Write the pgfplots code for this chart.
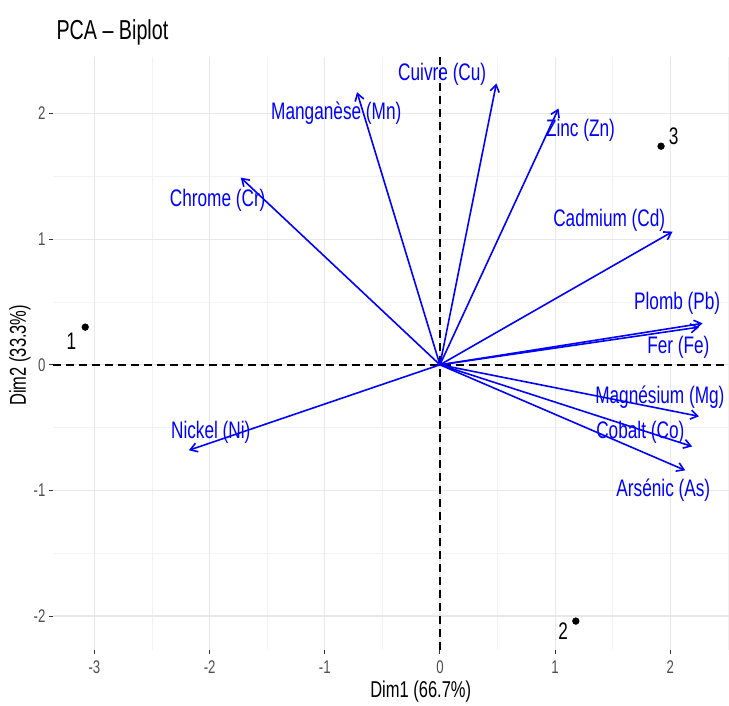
\documentclass[border=0pt]{standalone}
\usepackage{pgfplots}
\pgfplotsset{compat=1.18}
\usepackage{fontspec}
\setmainfont{Liberation Sans}[FakeStretch=0.72]
\usetikzlibrary{arrows.meta}
\definecolor{gridmaj}{HTML}{E8E8E8}
\definecolor{gridmin}{HTML}{F2F2F2}
\definecolor{ticklab}{HTML}{4D4D4D}
\definecolor{tickcol}{HTML}{333333}
\begin{document}
\begin{tikzpicture}
\useasboundingbox (-53bp,-56bp) rectangle (676bp,650bp);
\begin{axis}[
  at={(0,0)}, anchor=south west,
  scale only axis, width=676bp, height=593bp,
  xmin=-3.36, xmax=2.51, ymin=-2.27, ymax=2.45,
  axis line style={draw=none},
  xtick={-3,-2,-1,0,1,2}, ytick={-2,-1,0,1,2},
  minor xtick={-3,-2.5,-2,-1.5,-1,-0.5,0,0.5,1,1.5,2,2.5},
  minor ytick={-2,-1.5,-1,-0.5,0,0.5,1,1.5,2},
  xtick pos=bottom, ytick pos=left,
  tick align=outside, major tick length=4bp, minor tick length=0pt,
  tick style={tickcol, line width=1.1bp},
  grid=both,
  major grid style={gridmaj, line width=1.2bp},
  minor grid style={gridmin, line width=0.7bp},
  /pgf/number format/assume math mode=true,
  ticklabel style={font=\fontsize{18.4}{18.4}\selectfont, text=ticklab},
  xticklabel style={yshift=-3bp},
  every axis x label/.style={at={(rel axis cs:0.544,0)}, anchor=base, yshift=-47bp, font=\fontsize{23}{23}\selectfont},
  every axis y label/.style={at={(rel axis cs:0,0.497)}, anchor=center, xshift=-33bp, rotate=90, font=\fontsize{23}{23}\selectfont},
  xlabel={Dim1 (66.7\%)},
  ylabel={Dim2 (33.3\%)},
  clip=false,
]
% zero reference lines
\addplot[black, line width=1.8bp, dash pattern=on 8bp off 5bp] coordinates {(0,-2.27) (0,2.45)};
\addplot[black, line width=1.8bp, dash pattern=on 8bp off 5bp] coordinates {(-3.36,0) (2.51,0)};
% variable arrows
\addplot[blue, line width=1.6bp, quiver={u=\thisrow{u}, v=\thisrow{v}},
  -{Straight Barb[length=7bp, width=9bp, line width=1.6bp]}] table {
x y u v
0 0 0.49 2.24
0 0 -0.72 2.17
0 0 1.03 2.04
0 0 -1.73 1.49
0 0 2.02 1.06
0 0 2.28 0.33
0 0 2.25 0.30
0 0 2.25 -0.41
0 0 2.19 -0.65
0 0 2.13 -0.84
0 0 -2.18 -0.68
};
% variable labels
\addplot[only marks, mark=none, nodes near coords, point meta=explicit symbolic,
  nodes near coords style={anchor=center, inner sep=0pt, font=\fontsize{24}{24}\selectfont, text=blue}]
  table[col sep=comma, meta=label] {
x,y,label
0.02,2.31,Cuivre (Cu)
-0.90,2.00,Manganèse (Mn)
1.22,1.87,Zinc (Zn)
-1.93,1.31,Chrome (Cr)
1.47,1.15,Cadmium (Cd)
2.06,0.49,Plomb (Pb)
2.07,0.14,Fer (Fe)
1.91,-0.26,Magnésium (Mg)
1.74,-0.54,Cobalt (Co)
1.94,-1.00,Arsénic (As)
-1.99,-0.54,Nickel (Ni)
};
% individuals
\addplot[only marks, mark=*, mark size=3.4bp, black] coordinates {(-3.08,0.30) (1.18,-2.04) (1.92,1.74)};
\addplot[only marks, mark=none, nodes near coords, point meta=explicit symbolic,
  nodes near coords style={anchor=center, inner sep=0pt, font=\fontsize{24}{24}\selectfont, text=black}]
  table[col sep=comma, meta=label] {
x,y,label
-3.20,0.19,1
1.07,-2.12,2
2.03,1.82,3
};
\end{axis}
\node[anchor=base west, font=\fontsize{27.5}{27.5}\selectfont] at (0bp,610bp) {PCA – Biplot};
\end{tikzpicture}
\end{document}
